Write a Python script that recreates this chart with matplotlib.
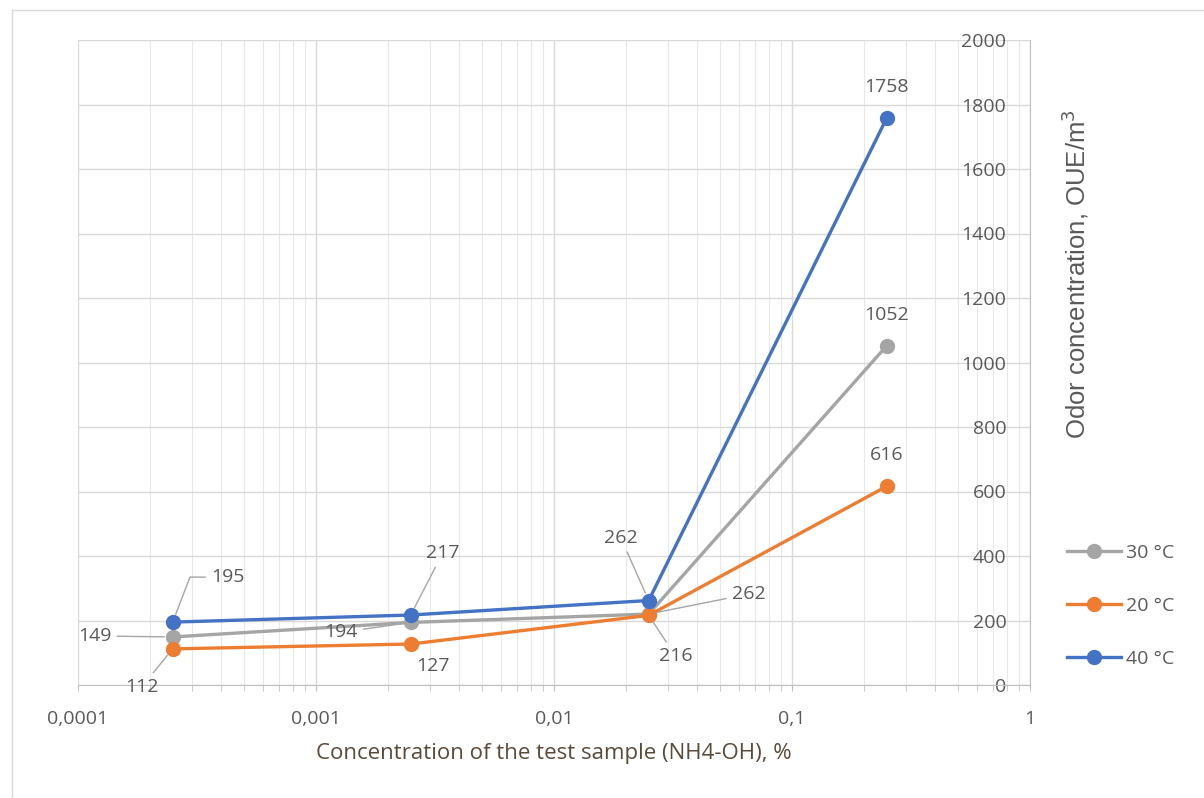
import numpy as np
import matplotlib
matplotlib.use("Agg")
import matplotlib.pyplot as plt
from matplotlib.lines import Line2D
from matplotlib.ticker import FixedLocator, FixedFormatter, LogLocator, NullFormatter

plt.rcParams['font.family'] = ['Open Sans', 'DejaVu Sans']

# data
conc = [0.00025, 0.0025, 0.025, 0.25]
t30 = [149, 194, 220, 1052]
t20 = [112, 127, 216, 616]
t40 = [195, 217, 262, 1758]
lab30 = ['149', '194', '262', '1052']
lab20 = ['112', '127', '216', '616']
lab40 = ['195', '217', '262', '1758']
xticks = [0.0001, 0.001, 0.01, 0.1, 1]
xticklabels = ['0,0001', '0,001', '0,01', '0,1', '1']

c30, c20, c40 = '#a5a5a5', '#ed7d31', '#4472c4'
txtc = '#595959'

fig = plt.figure(figsize=(12.04, 7.98), dpi=100)
ax = fig.add_axes([78/1204, 1-685/798, 952/1204, 645/798])

ax.plot(conc, t30, color=c30, lw=2.4, marker='o', ms=10, label='30 °C', zorder=3)
ax.plot(conc, t20, color=c20, lw=2.4, marker='o', ms=10, label='20 °C', zorder=4)
ax.plot(conc, t40, color=c40, lw=2.4, marker='o', ms=10, label='40 °C', zorder=5)

ax.set_xscale('log')
ax.set_xlim(0.0001, 1)
ax.set_ylim(0, 2000)
ax.xaxis.set_major_locator(FixedLocator(xticks))
ax.xaxis.set_major_formatter(FixedFormatter(xticklabels))
ax.xaxis.set_minor_locator(LogLocator(base=10, subs=np.arange(2, 10)))
ax.xaxis.set_minor_formatter(NullFormatter())
ax.set_yticks(np.arange(0, 2001, 200))

ax.grid(True, which='major', color='#d9d9d9', lw=1.0)
ax.grid(True, which='minor', axis='x', color='#e8e8e8', lw=0.8)
ax.set_axisbelow(True)

for s in ['top', 'right']:
    ax.spines[s].set_visible(False)
ax.spines['bottom'].set_color('#bfbfbf')
ax.spines['left'].set_color('#bfbfbf')
ax.spines['left'].set_position(('axes', 1.0))

ax.tick_params(axis='x', which='both', direction='out', length=4, color='#bfbfbf',
               labelsize=14, labelcolor=txtc, pad=14)
ax.tick_params(axis='y', which='both', length=0, labelsize=14, labelcolor=txtc, pad=17)

ax.set_xlabel('Concentration of the test sample (NH4-OH), %', fontsize=16, color='#5a4a3a', labelpad=11)
ax.set_ylabel('Odor concentration, OUE/m$^3$', fontsize=18.5, color=txtc,
              family=['Liberation Sans', 'DejaVu Sans'])
ax.yaxis.set_label_coords(1.064, 0.637)

# data labels: offsets in pixels, leader line or not
lead = '#a6a6a6'
def put(x, y, s, dx, dy, leader):
    kw = dict(textcoords='offset pixels', ha='center', va='center', fontsize=14,
              color=txtc, zorder=6,
              bbox=dict(boxstyle='square,pad=0.15', fc='none', ec='none'))
    if leader:
        kw['arrowprops'] = dict(arrowstyle='-', color=lead, lw=1.0, shrinkA=2, shrinkB=6)
        if leader == 'elbow':
            kw['arrowprops']['connectionstyle'] = 'angle,angleA=180,angleB=69,rad=0'
    ax.annotate(s, xy=(x, y), xytext=(dx, -dy), **kw)

off30 = [(-78, -1, True), (-70, 10, True), (100, -20, True), (0, -31, False)]
off20 = [(-31, 38, True), (22, 22, False), (27, 41, True), (0, -31, False)]
off40 = [(55, -45, 'elbow'), (32, -62, True), (-28, -63, True), (0, -31, False)]
for vals, labs, offs in [(t30, lab30, off30), (t20, lab20, off20), (t40, lab40, off40)]:
    for x, y, s, (dx, dy, ld) in zip(conc, vals, labs, offs):
        put(x, y, s, dx, dy, ld)

ax.legend(loc='center left', bbox_to_anchor=((1067-78)/952, (685-606)/645), frameon=False,
          fontsize=14, labelcolor=txtc, handlelength=2.8, labelspacing=1.8,
          handletextpad=0.25, borderaxespad=0, borderpad=0)

# outer chart border
fig.add_artist(Line2D([12/1204, 12/1204], [0, 1-10/798], color='#d9d9d9', lw=1))
fig.add_artist(Line2D([12/1204, 1], [1-10/798, 1-10/798], color='#d9d9d9', lw=1))

fig.savefig('out.png', dpi=100)
